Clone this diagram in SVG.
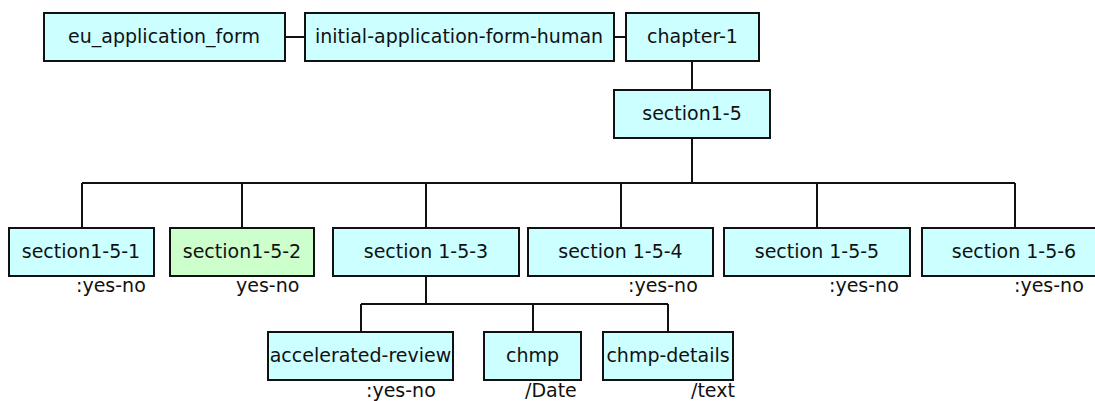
<svg xmlns="http://www.w3.org/2000/svg" width="1095" height="401" viewBox="0 0 1095 401">
<style>
.box rect{fill:#ccffff;stroke:#111;stroke-width:2}
.box.green rect{fill:#ccffcc}
.box text{font-family:"DejaVu Sans",Verdana,sans-serif;font-size:19px;fill:#111;text-anchor:middle}
.lbl{font-family:"DejaVu Sans",Verdana,sans-serif;font-size:19px;fill:#111}
#connectors path{fill:none;stroke:#111;stroke-width:2}
</style>
<rect width="1095" height="401" fill="#ffffff"/>
<g id="connectors">
<path d="M285,37 H305"/>
<path d="M614,37 H626"/>
<path d="M692,61 V90"/>
<path d="M692,138 V183"/>
<path d="M82,183 H1015"/>
<path d="M82,183 V228 M242,183 V228 M426,183 V228 M621,183 V228 M817,183 V228 M1015,183 V228"/>
<path d="M426,276 V304"/>
<path d="M361,304 H668"/>
<path d="M361,304 V332 M533,304 V332 M668,304 V332"/>
</g>
<g id="eu_application_form" class="box"><rect x="44" y="13" width="241" height="48"/><text x="164" y="43">eu_application_form</text></g>
<g id="initial-application-form-human" class="box"><rect x="305" y="13" width="309" height="48"/><text x="459" y="43">initial-application-form-human</text></g>
<g id="chapter-1" class="box"><rect x="626" y="13" width="133" height="48"/><text x="692.5" y="43">chapter-1</text></g>
<g id="section1-5" class="box"><rect x="614" y="90" width="156" height="48"/><text x="692" y="120">section1-5</text></g>
<g id="section1-5-1" class="box"><rect x="9" y="228" width="145" height="48"/><text x="81" y="257.5">section1-5-1</text></g>
<g id="section1-5-2" class="box green"><rect x="170" y="228" width="144" height="48"/><text x="242" y="257.5">section1-5-2</text></g>
<g id="section1-5-3" class="box"><rect x="333" y="228" width="186" height="48"/><text x="426" y="257.5">section 1-5-3</text></g>
<g id="section1-5-4" class="box"><rect x="528" y="228" width="185" height="48"/><text x="620.5" y="257.5">section 1-5-4</text></g>
<g id="section1-5-5" class="box"><rect x="724" y="228" width="186" height="48"/><text x="817" y="257.5">section 1-5-5</text></g>
<g id="section1-5-6" class="box"><rect x="922" y="228" width="186" height="48"/><text x="1014" y="257.5">section 1-5-6</text></g>
<g id="accelerated-review" class="box"><rect x="268" y="332" width="185" height="48"/><text x="360.5" y="361.5">accelerated-review</text></g>
<g id="chmp" class="box"><rect x="484" y="332" width="97" height="48"/><text x="532.5" y="361.5">chmp</text></g>
<g id="chmp-details" class="box"><rect x="603" y="332" width="130" height="48"/><text x="668" y="361.5">chmp-details</text></g>
<g id="labels">
<text class="lbl" x="76" y="292">:yes-no</text>
<text class="lbl" x="236" y="292">yes-no</text>
<text class="lbl" x="628" y="292">:yes-no</text>
<text class="lbl" x="829" y="292">:yes-no</text>
<text class="lbl" x="1014" y="292">:yes-no</text>
<text class="lbl" x="366" y="397">:yes-no</text>
<text class="lbl" x="525" y="397">/Date</text>
<text class="lbl" x="691" y="397">/text</text>
</g>
</svg>
